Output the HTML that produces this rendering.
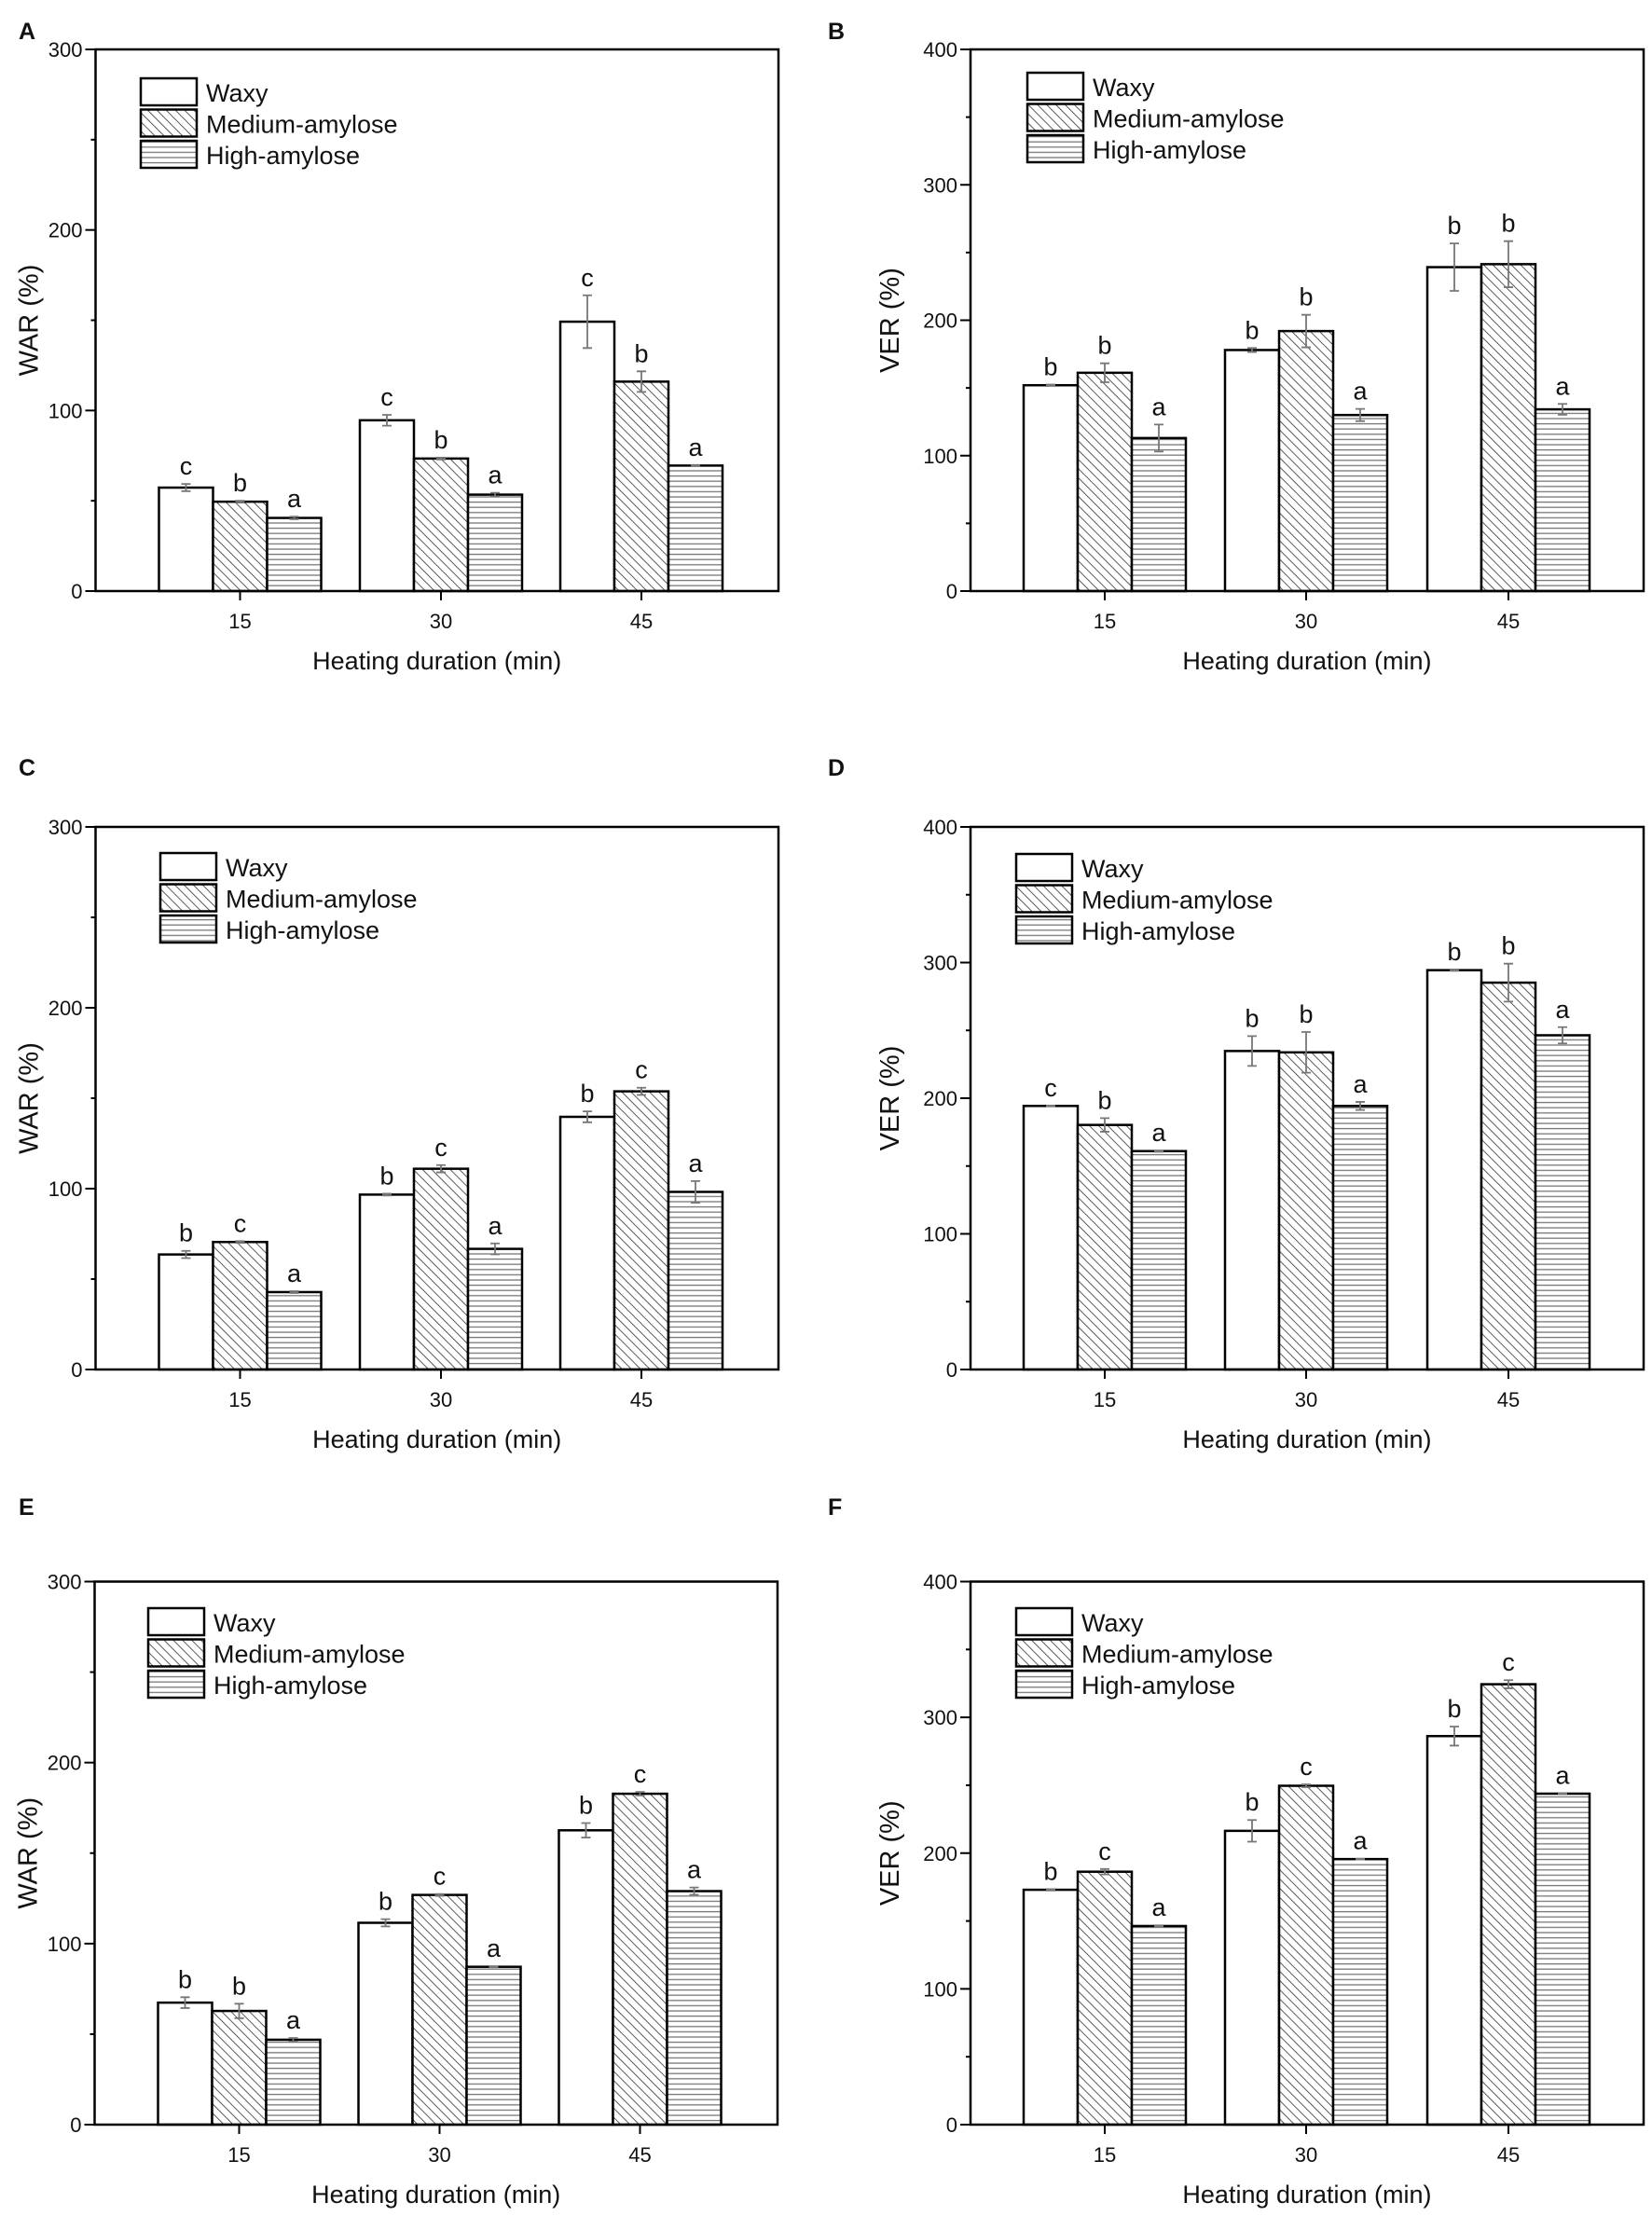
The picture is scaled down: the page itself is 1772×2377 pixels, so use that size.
<!DOCTYPE html>
<html><head><meta charset="utf-8"><title>WAR and VER charts</title>
<style>
html,body{margin:0;padding:0;background:#fff}
svg{display:block}
text{font-family:"Liberation Sans",Arial,sans-serif;fill:#111}
</style></head>
<body>
<svg id="fig" xmlns="http://www.w3.org/2000/svg" width="1772" height="2377" viewBox="0 0 1772 2377">
<defs>
<pattern id="diag" patternUnits="userSpaceOnUse" width="7" height="7" patternTransform="rotate(-45)">
<rect width="7" height="7" fill="#fff"/><line x1="0" y1="0" x2="0" y2="7" stroke="#333" stroke-width="1.6"/>
</pattern>
<pattern id="horiz" patternUnits="userSpaceOnUse" width="10" height="5.6">
<rect width="10" height="5.6" fill="#fff"/><line x1="0" y1="1" x2="10" y2="1" stroke="#777" stroke-width="1.3"/>
</pattern>
</defs>
<g id="root"></g>
</svg>
<script>
// ---- Data ----
const categories = ["15", "30", "45"];
const seriesNames = ["Waxy", "Medium-amylose", "High-amylose"];
const warTicks = [0, 100, 200, 300];
const verTicks = [0, 100, 200, 300, 400];

const aWaxy = [57.3, 94.6, 149.2];   const aWaxyErr = [2, 3, 14.6];
const aMedium = [49.5, 73.4, 116];   const aMediumErr = [0.5, 0.5, 5.7];
const aHigh = [40.5, 53.4, 69.5];    const aHighErr = [0.7, 1, 0.3];
const aLetters = [["c","b","a"],["c","b","a"],["c","b","a"]];

const bWaxy = [152, 178, 239.2];     const bWaxyErr = [0.5, 1.5, 17.5];
const bMedium = [161.2, 192, 241.4]; const bMediumErr = [7, 12, 17];
const bHigh = [113, 130, 134.2];     const bHighErr = [10, 4.5, 4];
const bLetters = [["b","b","a"],["b","b","a"],["b","b","a"]];

const cWaxy = [63.6, 96.7, 139.7];   const cWaxyErr = [2, 0.5, 3];
const cMedium = [70.5, 111, 153.8];  const cMediumErr = [0.5, 2, 2];
const cHigh = [42.8, 66.7, 98.2];    const cHighErr = [0.5, 3, 6];
const cLetters = [["b","c","a"],["b","c","a"],["b","c","a"]];

const dWaxy = [194.3, 234.8, 294.4]; const dWaxyErr = [0.3, 11, 0.5];
const dMedium = [180.3, 233.8, 285.2]; const dMediumErr = [5, 15, 14];
const dHigh = [161, 194.3, 246.4];   const dHighErr = [0.5, 3, 6];
const dLetters = [["c","b","a"],["b","b","a"],["b","b","a"]];

const eWaxy = [67.4, 111.5, 162.6];  const eWaxyErr = [3, 2, 4];
const eMedium = [62.8, 126.9, 182.8]; const eMediumErr = [4, 0.5, 1];
const eHigh = [46.9, 87.2, 129];     const eHighErr = [1, 0.3, 2];
const eLetters = [["b","b","a"],["b","c","a"],["b","c","a"]];

const fWaxy = [173, 216.4, 286.2];   const fWaxyErr = [0.5, 8, 7];
const fMedium = [186.3, 249.6, 324.4]; const fMediumErr = [2, 1, 3];
const fHigh = [146.3, 195.6, 243.8]; const fHighErr = [0.5, 0.3, 0.3];
const fLetters = [["b","c","a"],["b","c","a"],["b","c","a"]];

// ---- Layout ----
const NS = "http://www.w3.org/2000/svg";
const root = document.getElementById("root");
function mk(tag, attrs, parent) {
  const e = document.createElementNS(NS, tag);
  for (const k in attrs) e.setAttribute(k, attrs[k]);
  (parent || root).appendChild(e);
  return e;
}
const fills = ["#fff", "url(#diag)", "url(#horiz)"];

const panels = [
  {id:"a", label:"A", ytitle:"WAR (%)", ymax:300, ticks:warTicks, L:102.5, R:835, T:53, B:634, cx:[257.5,473,688], lx:151, ly:84, lab:[20,42], yto:62,
   vals:[aWaxy,aMedium,aHigh], errs:[aWaxyErr,aMediumErr,aHighErr], letters:aLetters},
  {id:"b", label:"B", ytitle:"VER (%)", ymax:400, ticks:verTicks, L:1041, R:1763, T:53, B:634, cx:[1185,1401,1618], lx:1102, ly:78, lab:[888,42], yto:77,
   vals:[bWaxy,bMedium,bHigh], errs:[bWaxyErr,bMediumErr,bHighErr], letters:bLetters},
  {id:"c", label:"C", ytitle:"WAR (%)", ymax:300, ticks:warTicks, L:102.5, R:835, T:887, B:1469, cx:[257.5,473,688], lx:172, ly:915, lab:[20,832], yto:62,
   vals:[cWaxy,cMedium,cHigh], errs:[cWaxyErr,cMediumErr,cHighErr], letters:cLetters},
  {id:"d", label:"D", ytitle:"VER (%)", ymax:400, ticks:verTicks, L:1041, R:1763, T:887, B:1469, cx:[1185,1401,1618], lx:1090, ly:916, lab:[888,832], yto:77,
   vals:[dWaxy,dMedium,dHigh], errs:[dWaxyErr,dMediumErr,dHighErr], letters:dLetters},
  {id:"e", label:"E", ytitle:"WAR (%)", ymax:300, ticks:warTicks, L:101.5, R:834, T:1696.5, B:2279, cx:[256.5,471.5,686.5], lx:159, ly:1725, lab:[20,1625], yto:62,
   vals:[eWaxy,eMedium,eHigh], errs:[eWaxyErr,eMediumErr,eHighErr], letters:eLetters},
  {id:"f", label:"F", ytitle:"VER (%)", ymax:400, ticks:verTicks, L:1041, R:1763, T:1696.5, B:2279, cx:[1185,1401,1618], lx:1090, ly:1725, lab:[888,1625], yto:77,
   vals:[fWaxy,fMedium,fHigh], errs:[fWaxyErr,fMediumErr,fHighErr], letters:fLetters}
];

const BW = 58;
panels.forEach(p => {
  const g = mk("g", {});
  
  
  const y = v => p.B - (v / p.ymax) * (p.B - p.T);

  const pl = mk("text", {x:p.lab[0], y:p.lab[1], "font-size":25, "font-weight":"bold"}, g);
  pl.textContent = p.label;
  
  

  for (let s = 0; s < 3; s++) {
    for (let i = 0; i < categories.length; i++) {
      const v = p.vals[s][i];
      const x0 = p.cx[i] + (s - 1) * BW - BW / 2;
      const r = mk("rect", {x:x0, y:y(v), width:BW, height:p.B - y(v), fill:fills[s], stroke:"#000", "stroke-width":2.5}, g);
      
      
      const e = p.errs[s][i];
      const xc = x0 + BW / 2;
      const eb = mk("path", {d:`M${xc},${y(v+e)}V${y(v-e)}M${xc-5},${y(v+e)}H${xc+5}M${xc-5},${y(v-e)}H${xc+5}`, stroke:"#777", "stroke-width":1.8, fill:"none"}, g);
      
      
      const lt = mk("text", {x:xc, y:y(v+e) - 10, "font-size":27, "text-anchor":"middle"}, g);
      lt.textContent = p.letters[i][s];
      
      
    }
  }

  const fr = mk("rect", {x:p.L, y:p.T, width:p.R - p.L, height:p.B - p.T, fill:"none", stroke:"#000", "stroke-width":2.5}, g);
  
  

  p.ticks.forEach((t, k) => {
    const yy = y(t);
    const tk = mk("line", {x1:p.L - 11, x2:p.L, y1:yy, y2:yy, stroke:"#000", "stroke-width":2}, g);
    
    
    if (k < p.ticks.length - 1) {
      const ym = y(t + (p.ticks[1] - p.ticks[0]) / 2);
      const mt = mk("line", {x1:p.L - 5, x2:p.L, y1:ym, y2:ym, stroke:"#000", "stroke-width":2}, g);
      
      
    }
    const tl = mk("text", {x:p.L - 14, y:yy + 8, "font-size":22, "text-anchor":"end"}, g);
    tl.textContent = t;
    
    
  });

  categories.forEach((c, i) => {
    const xt = mk("line", {x1:p.cx[i], x2:p.cx[i], y1:p.B, y2:p.B + 10, stroke:"#000", "stroke-width":2}, g);
    
    
    const xl = mk("text", {x:p.cx[i], y:p.B + 40, "font-size":22, "text-anchor":"middle"}, g);
    xl.textContent = c;
    
    
  });

  const xt = mk("text", {x:(p.L + p.R) / 2, y:p.B + 84, "font-size":27, "text-anchor":"middle"}, g);
  xt.textContent = "Heating duration (min)";
  
  

  const yc = (p.T + p.B) / 2;
  const ytx = p.L - p.yto;
  const yt = mk("text", {x:ytx, y:yc, "font-size":29, "text-anchor":"middle", transform:`rotate(-90 ${ytx} ${yc})`}, g);
  yt.textContent = p.ytitle;
  
  

  for (let s = 0; s < 3; s++) {
    const ty = p.ly + s * 33.5;
    const lb = mk("rect", {x:p.lx, y:ty, width:60, height:29, fill:fills[s], stroke:"#000", "stroke-width":2.5}, g);
    
    
    const lt = mk("text", {x:p.lx + 70, y:ty + 25, "font-size":27}, g);
    lt.textContent = seriesNames[s];
    
    
  }
});
</script>
</body></html>
